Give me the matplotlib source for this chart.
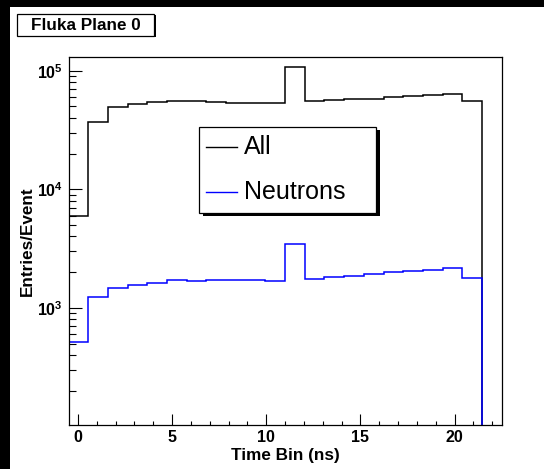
import numpy as np
import matplotlib
matplotlib.use("Agg")
import matplotlib.pyplot as plt
from matplotlib.patches import Rectangle
from matplotlib.lines import Line2D
from matplotlib.ticker import LogLocator, MultipleLocator, NullFormatter, FixedLocator

plt.rcParams['font.family'] = ['Liberation Sans', 'DejaVu Sans']
plt.rcParams['mathtext.fontset'] = 'custom'
plt.rcParams['mathtext.rm'] = 'Liberation Sans:bold'
plt.rcParams['mathtext.bf'] = 'Liberation Sans:bold'
plt.rcParams['mathtext.it'] = 'Liberation Sans:bold'

# ---- data ----
bin_edges = np.linspace(-0.5, 22.5, 23)
all_counts = [5990, 37150, 49720, 52030, 54430, 55500, 55140, 54430, 53730, 53040,
              53040, 106700, 55140, 56220, 57320, 58060, 59600, 61150, 62740, 63990,
              55860, 0]
neutron_counts = [511, 1233, 1469, 1567, 1629, 1704, 1693, 1704, 1704, 1704,
                  1683, 3473, 1761, 1806, 1866, 1928, 1991, 2043, 2097, 2151,
                  1772, 0]
series_names = ["All", "Neutrons"]
series_colors = ["black", "#0000ff"]
xticks = [0, 5, 10, 15, 20]
xtick_labels = ["0", "5", "10", "15", "20"]
yticks = [1e3, 1e4, 1e5]
ytick_labels = [r"$\mathbf{10^{3}}$", r"$\mathbf{10^{4}}$", r"$\mathbf{10^{5}}$"]
title = "Fluka Plane 0"
xlabel = "Time Bin (ns)"
ylabel = "Entries/Event"

W, H = 544, 469
fig = plt.figure(figsize=(W / 100, H / 100), dpi=100)
fig.patch.set_facecolor("white")

def fx(x):
    return x / W

def fy(y):
    return 1 - y / H

ax_l, ax_r, ax_t, ax_b = 68.5, 501.7, 56.7, 425.0
ax = fig.add_axes([fx(ax_l), fy(ax_b), fx(ax_r) - fx(ax_l), (ax_b - ax_t) / H])
ax.set_yscale("log", nonpositive="clip")

for vals, col in zip([all_counts, neutron_counts], series_colors):
    ax.stairs(vals, bin_edges, baseline=None, color=col, lw=1.1)

ax.set_xlim(-0.5, 22.5)
ax.set_ylim(10 ** 2.0118, 10 ** 5.118)

for s in ax.spines.values():
    s.set_linewidth(0.9)
    s.set_color("black")

ax.xaxis.set_major_locator(FixedLocator(xticks))
ax.set_xticklabels(xtick_labels)
ax.xaxis.set_minor_locator(MultipleLocator(1))
ax.yaxis.set_major_locator(FixedLocator(yticks))
ax.set_yticklabels(ytick_labels)
ax.yaxis.set_minor_locator(LogLocator(base=10, subs=np.arange(2, 10)))
ax.yaxis.set_minor_formatter(NullFormatter())

ax.tick_params(axis="x", which="major", direction="in", length=7.7, width=0.8,
               labelsize=11.5, pad=3.5, top=False)
ax.tick_params(axis="x", which="minor", direction="in", length=3.1, width=0.8, top=False)
ax.tick_params(axis="y", which="major", direction="in", length=9.6, width=0.8,
               labelsize=11.5, pad=4.0, right=False)
ax.tick_params(axis="y", which="minor", direction="in", length=4.8, width=0.8, right=False)
for lab in ax.get_xticklabels():
    lab.set_fontweight("bold")

ax.set_xlabel(xlabel, fontsize=12.3, fontweight="bold")
ax.xaxis.label.set_va("center")
ax.xaxis.set_label_coords(0.5, -(455 - ax_b) / (ax_b - ax_t))
ax.set_ylabel(ylabel, fontsize=12.3, fontweight="bold")
ax.yaxis.label.set_va("center")
ax.yaxis.set_label_coords((27.5 - ax_l) / (ax_r - ax_l), 0.5)

# black canvas edges
fig.patches.append(Rectangle((0, 0), fx(10), 1, transform=fig.transFigure,
                             facecolor="black", edgecolor="none", zorder=0))
fig.patches.append(Rectangle((0, fy(6.7)), 1, 6.7 / H, transform=fig.transFigure,
                             facecolor="black", edgecolor="none", zorder=0))

# title box
tb_l, tb_t, tb_r, tb_b = 17, 14, 154, 36
fig.patches.append(Rectangle((fx(tb_l + 1.5), fy(tb_b + 1.5)), fx(tb_r - tb_l), (tb_b - tb_t) / H,
                             transform=fig.transFigure, facecolor="black", edgecolor="none", zorder=1))
fig.patches.append(Rectangle((fx(tb_l), fy(tb_b)), fx(tb_r - tb_l), (tb_b - tb_t) / H,
                             transform=fig.transFigure, facecolor="white", edgecolor="black",
                             lw=0.9, zorder=2))
fig.text(fx((tb_l + tb_r) / 2), fy((tb_t + tb_b) / 2 + 0.5), title, ha="center", va="center",
         fontsize=12.3, fontweight="bold", zorder=3)

# legend box
lg_l, lg_t, lg_r, lg_b = 199.3, 126.7, 375.7, 212.7
fig.patches.append(Rectangle((fx(lg_l + 4), fy(lg_b + 3)), fx(lg_r - lg_l), (lg_b - lg_t) / H,
                             transform=fig.transFigure, facecolor="black", edgecolor="none", zorder=5))
fig.patches.append(Rectangle((fx(lg_l), fy(lg_b)), fx(lg_r - lg_l), (lg_b - lg_t) / H,
                             transform=fig.transFigure, facecolor="white", edgecolor="black",
                             lw=0.9, zorder=6))
entry_y = [147.3, 192.3]
for name, col, yy in zip(series_names, series_colors, entry_y):
    fig.lines.append(Line2D([fx(206), fx(236.7)], [fy(yy), fy(yy)], transform=fig.transFigure,
                            color=col, lw=1.0, zorder=7))
    fig.text(fx(243.5), fy(yy), name, ha="left", va="center", fontsize=18, zorder=8)

fig.savefig("out.png", dpi=100)
